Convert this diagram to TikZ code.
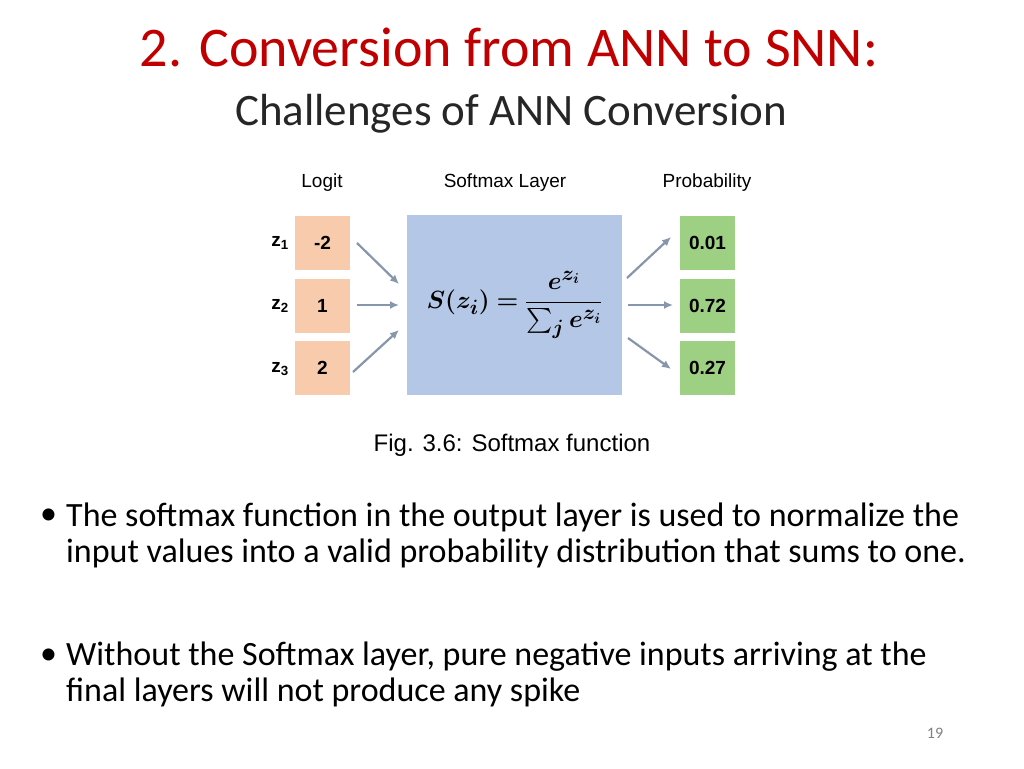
\documentclass[tikz,border=0pt]{standalone}
\usepackage{amsmath,bm}
\usepackage{fontspec}
\setmainfont{Carlito}
\newfontfamily\arial{Liberation Sans}
\usetikzlibrary{arrows.meta}
\begin{document}
\begin{tikzpicture}[x=1pt,y=-1pt,
  lbox/.style={minimum width=55pt,minimum height=54pt,inner sep=0pt,font=\arial\bfseries\fontsize{19}{22}\selectfont},
  ob/.style={lbox,fill={rgb,255:red,248;green,203;blue,173}},
  gb/.style={lbox,fill={rgb,255:red,157;green,208;blue,130}},
  arr/.style={draw={rgb,255:red,135;green,150;blue,170},line width=2.2pt,-{Latex[length=9pt,width=8pt]}},
  hd/.style={font=\arial\fontsize{19}{22}\selectfont},
  zl/.style={font=\arial\bfseries\fontsize{19}{22}\selectfont},
  bt/.style={anchor=west,font=\fontsize{34}{40}\selectfont,inner sep=0pt}]
\useasboundingbox (0,0) rectangle (1024,768);
\node[text={rgb,255:red,192;green,0;blue,0},font=\fontsize{56}{64}\selectfont] (title) at (509,47) {2. Conversion from ANN to SNN:};
\node[text={rgb,255:red,38;green,38;blue,38},font=\fontsize{45}{52}\selectfont] (sub) at (511,114) {Challenges of ANN Conversion};
\node[hd] (h1) at (322,183) {Logit};
\node[hd] (h2) at (505,183) {Softmax Layer};
\node[hd] (h3) at (707,183) {Probability};
\node[ob] (o1) at (322.5,242.5) {-2};
\node[ob] (o2) at (322.5,306) {1};
\node[ob] (o3) at (322.5,368) {2};
\node[zl] (z1) at (280,243) {z\textsubscript{1}};
\node[zl] (z2) at (280,306) {z\textsubscript{2}};
\node[zl] (z3) at (280,369) {z\textsubscript{3}};
\node[fill={rgb,255:red,180;green,199;blue,231},minimum width=215pt,minimum height=180pt,inner sep=0pt,font=\fontsize{30}{34}\selectfont] (sm) at (514.5,305) {$\bm{S(z_i)=\dfrac{e^{z_i}}{\sum_j e^{z_i}}}$};
\node[gb] (g1) at (707.5,242.5) {0.01};
\node[gb] (g2) at (707.5,306) {0.72};
\node[gb] (g3) at (707.5,368) {0.27};
\coordinate (a1) at (357,243); \coordinate (b1) at (399,284);
\coordinate (a2) at (357,305); \coordinate (b2) at (399,305);
\coordinate (a3) at (353,372); \coordinate (b3) at (399,330);
\coordinate (c1) at (627,278); \coordinate (d1) at (671,237);
\coordinate (c2) at (628,305); \coordinate (d2) at (673,305);
\coordinate (c3) at (628,338); \coordinate (d3) at (671,369);
\foreach \i in {1,2,3}{\draw[arr] (a\i) -- (b\i); \draw[arr] (c\i) -- (d\i);}
\node[font=\arial\fontsize{24}{28}\selectfont] (cap) at (512,445) {Fig. 3.6: Softmax function};
\node[bt] (p1) at (40,517) {•};
\node[bt] (t1) at (66,517) {The softmax function in the output layer is used to normalize the};
\node[bt] (t1b) at (66,553) {input values into a valid probability distribution that sums to one.};
\node[bt] (p2) at (40,657) {•};
\node[bt] (t2) at (66,657) {Without the Softmax layer, pure negative inputs arriving at the};
\node[bt] (t2b) at (66,692) {final layers will not produce any spike};
\node[text=gray,font=\fontsize{16}{18}\selectfont] (pg) at (935,733) {19};
\end{tikzpicture}
\end{document}
